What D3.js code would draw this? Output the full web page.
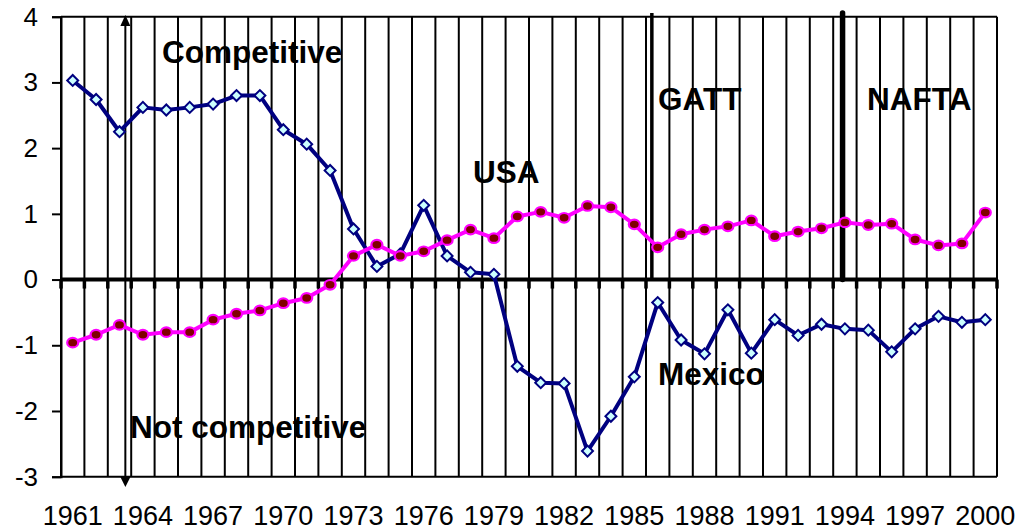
<!DOCTYPE html>
<html>
<head>
<meta charset="utf-8">
<script src="https://cdn.jsdelivr.net/npm/d3@7"></script>
<style>
    body { margin: 0; background: #fff; }
    svg { display: block; font-family: "Liberation Sans", Arial, sans-serif; }
</style>
</head>
<body>
<svg id="chart"></svg>
<script>
// Data: competitiveness index, 1961-2000
const years = d3.range(1961, 2001).map(String);
const mexico = [3.03, 2.74, 2.25, 2.62, 2.58, 2.62, 2.67, 2.80, 2.80, 2.28,
                2.06, 1.66, 0.77, 0.20, 0.39, 1.13, 0.36, 0.11, 0.08, -1.32,
                -1.57, -1.58, -2.61, -2.08, -1.48, -0.35, -0.92, -1.13, -0.46, -1.12,
                -0.61, -0.85, -0.68, -0.75, -0.77, -1.10, -0.75, -0.56, -0.65, -0.61];
const usa = [-0.96, -0.84, -0.69, -0.84, -0.80, -0.80, -0.61, -0.52, -0.47, -0.36,
             -0.28, -0.08, 0.36, 0.53, 0.36, 0.43, 0.60, 0.76, 0.63, 0.96,
             1.03, 0.94, 1.12, 1.10, 0.84, 0.49, 0.69, 0.76, 0.81, 0.90,
             0.66, 0.73, 0.78, 0.87, 0.83, 0.85, 0.61, 0.52, 0.55, 1.02];
const yTicks = [-3, -2, -1, 0, 1, 2, 3, 4];
const yearLabels = years.filter((d, i) => i % 3 === 0);
const events = ['1986', '1994'];   // GATT, NAFTA

const Chart = {
    width: 1020,
    height: 531,
    plot: {left: 61, right: 997, top: 16.7, bottom: 476.7},

    init() {
        this.svg = d3.select('#chart')
            .attr('width', this.width)
            .attr('height', this.height);
        this.draw();
    },

    draw() {
        const p = this.plot;
        const svg = this.svg;

        // Scales
        const x = d3.scaleBand().domain(years).range([p.left, p.right]);
        const y = d3.scaleLinear().domain([-3, 4]).range([p.bottom, p.top]);
        const bw = x.bandwidth();
        const cx = d => x(d) + bw / 2;

        // Category boundaries (gridlines)
        const bounds = years.map(d => x(d)).concat([p.right]);

        svg.append('g')
            .selectAll('line')
            .data(bounds)
            .join('line')
            .attr('x1', d => d).attr('x2', d => d)
            .attr('y1', p.top).attr('y2', p.bottom)
            .attr('stroke', '#000')
            .attr('stroke-width', 2);

        // Top and bottom border
        svg.append('g')
            .selectAll('line')
            .data([p.top, p.bottom])
            .join('line')
            .attr('x1', p.left).attr('x2', p.right)
            .attr('y1', d => d).attr('y2', d => d)
            .attr('stroke', '#000')
            .attr('stroke-width', 2);

        // Y axis (plain hyphen for negatives, like the original)
        const yAxis = svg.append('g')
            .attr('transform', `translate(${p.left},0)`)
            .call(d3.axisLeft(y).tickValues(yTicks).tickFormat(d => String(d))
                .tickSize(9).tickPadding(14));
        yAxis.select('.domain').attr('stroke', '#000').attr('stroke-width', 2);
        yAxis.selectAll('.tick line').attr('stroke', '#000').attr('stroke-width', 2);
        yAxis.selectAll('.tick text')
            .attr('font-size', '26px')
            .attr('font-family', '"Liberation Sans", Arial, sans-serif')
            .attr('fill', '#000');

        // Zero line with downward ticks at category boundaries
        svg.append('line')
            .attr('x1', p.left).attr('x2', p.right)
            .attr('y1', y(0)).attr('y2', y(0))
            .attr('stroke', '#000')
            .attr('stroke-width', 4);

        svg.append('g')
            .selectAll('line')
            .data(bounds)
            .join('line')
            .attr('x1', d => d).attr('x2', d => d)
            .attr('y1', y(0)).attr('y2', y(0) + 9)
            .attr('stroke', '#000')
            .attr('stroke-width', 3.5);

        // Year labels along the bottom
        const xAxis = svg.append('g')
            .attr('transform', `translate(0,${p.bottom})`)
            .call(d3.axisBottom(x).tickValues(yearLabels).tickSize(0).tickPadding(29));
        xAxis.select('.domain').remove();
        xAxis.selectAll('.tick text')
            .attr('font-size', '27px')
            .attr('font-family', '"Liberation Sans", Arial, sans-serif')
            .attr('fill', '#000');

        // Policy event lines (GATT, NAFTA)
        svg.append('line')
            .attr('x1', x(events[0]) + bw * 0.25).attr('x2', x(events[0]) + bw * 0.25)
            .attr('y1', 13).attr('y2', y(0))
            .attr('stroke', '#000')
            .attr('stroke-width', 3.5);
        svg.append('line')
            .attr('x1', x(events[1]) + bw * 0.4).attr('x2', x(events[1]) + bw * 0.4)
            .attr('y1', 13).attr('y2', y(0))
            .attr('stroke', '#000')
            .attr('stroke-width', 5.5)
            .attr('stroke-linecap', 'round');

        // Double arrow: competitive / not competitive
        const ax = x('1963') + bw * 0.75;
        svg.append('line')
            .attr('x1', ax).attr('x2', ax)
            .attr('y1', 22).attr('y2', 480)
            .attr('stroke', '#000')
            .attr('stroke-width', 2);
        svg.append('path')
            .attr('d', `M${ax},15 L${ax - 5},26 L${ax + 5},26 Z`)
            .attr('fill', '#000');
        svg.append('path')
            .attr('d', `M${ax},487 L${ax - 5},477 L${ax + 5},477 Z`)
            .attr('fill', '#000');

        // Line generator
        const line = d3.line()
            .x((d, i) => cx(years[i]))
            .y(d => y(d));

        // Mexico series
        svg.append('path')
            .datum(mexico)
            .attr('d', line)
            .attr('fill', 'none')
            .attr('stroke', '#000080')
            .attr('stroke-width', 4)
            .attr('stroke-linejoin', 'round');

        svg.append('g')
            .selectAll('path')
            .data(mexico)
            .join('path')
            .attr('d', d3.symbol(d3.symbolSquare, 60))
            .attr('transform', (d, i) => `translate(${cx(years[i])},${y(d)}) rotate(45)`)
            .attr('fill', '#ccffff')
            .attr('stroke', '#000080')
            .attr('stroke-width', 2);

        // USA series
        svg.append('path')
            .datum(usa)
            .attr('d', line)
            .attr('fill', 'none')
            .attr('stroke', '#ff00ff')
            .attr('stroke-width', 4)
            .attr('stroke-linejoin', 'round');

        svg.append('g')
            .selectAll('ellipse')
            .data(usa)
            .join('ellipse')
            .attr('cx', (d, i) => cx(years[i]))
            .attr('cy', d => y(d))
            .attr('rx', 5.5)
            .attr('ry', 4.8)
            .attr('fill', '#800000')
            .attr('stroke', '#ff00ff')
            .attr('stroke-width', 2.2);

        // Annotations
        const notes = [
            {text: 'Competitive', x: 162, y: 63},
            {text: 'USA', x: 473, y: 183},
            {text: 'GATT', x: 658, y: 110},
            {text: 'NAFTA', x: 867, y: 110},
            {text: 'Mexico', x: 658, y: 385},
            {text: 'Not competitive', x: 130, y: 438}
        ];
        svg.append('g')
            .selectAll('text')
            .data(notes)
            .join('text')
            .attr('x', d => d.x)
            .attr('y', d => d.y)
            .attr('font-size', '31.5px')
            .attr('font-weight', 'bold')
            .attr('fill', '#000')
            .text(d => d.text);
    }
};

Chart.init();
</script>
</body>
</html>
